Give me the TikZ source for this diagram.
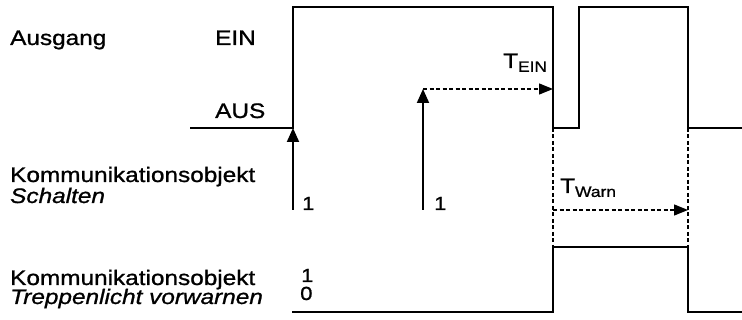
\documentclass[tikz,border=0pt]{standalone}
\usepackage{fontspec}
\setmainfont{Liberation Sans}[FakeStretch=1.16, FakeBold=1]
\usetikzlibrary{arrows.meta,positioning}
\newcommand{\lowidx}[1]{\raisebox{-0.35ex}{\fontsize{15}{15}\selectfont #1}}

\begin{document}
\begin{tikzpicture}[
    x=1pt, y=-1pt,
    txt/.style={anchor=base west, inner sep=0pt, font=\fontsize{21}{24}\selectfont},
    num/.style={anchor=base west, inner sep=0pt, font=\fontsize{19}{22}\selectfont},
    signal/.style={line width=1.9pt},
    guide/.style={line width=1.3pt, dash pattern=on 4pt off 2.5pt},
    trig/.style={-{Triangle[length=14pt,width=12pt]}, line width=1.9pt},
    delay/.style={-{Triangle[length=14pt,width=11pt]}, line width=1.3pt, dash pattern=on 4pt off 2.5pt}
]
\useasboundingbox (0,0) rectangle (742,320);

% Beschriftung links
\node[txt] (ausgang) at (10,45) {Ausgang};
\node[txt] (ein) at (215,45) {EIN};
\node[txt] (aus) at (215,118) {AUS};
\node[txt] (ko1) at (10,182) {Kommunikationsobjekt};
\node[txt] (schalten) at (10,203) {\itshape Schalten};
\node[txt] (ko2) at (10,285) {Kommunikationsobjekt};
\node[txt] (treppe) at (10,304) {\itshape Treppenlicht vorwarnen};

% Werte
\node[num] (eins1) at (302,210) {1};
\node[num] (eins2) at (434,210) {1};
\node[num] (hoch) at (301,282) {1};
\node[num] (tief) at (300,300) {0};
\node[txt] (tein) at (503,68) {T\lowidx{EIN}};
\node[txt] (twarn) at (560,193) {T\lowidx{Warn}};

% Eckpunkte
\coordinate (on1) at (293,128);
\coordinate (fall1) at (553,128);
\coordinate (fall2) at (688,128);
\coordinate (warn1) at (553,247);
\coordinate (warn2) at (688,247);
\coordinate (trig1) at (293,210);
\coordinate (trig2) at (423,210);
\coordinate (start) at (423,89);
\coordinate (stop) at (553,89);
\coordinate (wstart) at (553,210);
\coordinate (wstop) at (688,210);

% Ausgang
\draw[signal] (190,128) -- (on1) -- (293,7) -- (553,7) -- (fall1) -- (579,128)
    -- (579,7) -- (688,7) -- (fall2) -- (742,128);

% Treppenlicht vorwarnen
\draw[signal] (292,312) -- (553,312) -- (warn1) -- (warn2) -- (688,312) -- (742,312);

% Telegramme
\draw[trig] (trig1) -- (on1);
\draw[trig] (trig2) -- (start);

% Zeiten
\draw[delay] (start) -- (stop);
\draw[guide] (fall1) -- (warn1);
\draw[guide] (fall2) -- (warn2);
\draw[delay] (wstart) -- (wstop);

\end{tikzpicture}
\end{document}
